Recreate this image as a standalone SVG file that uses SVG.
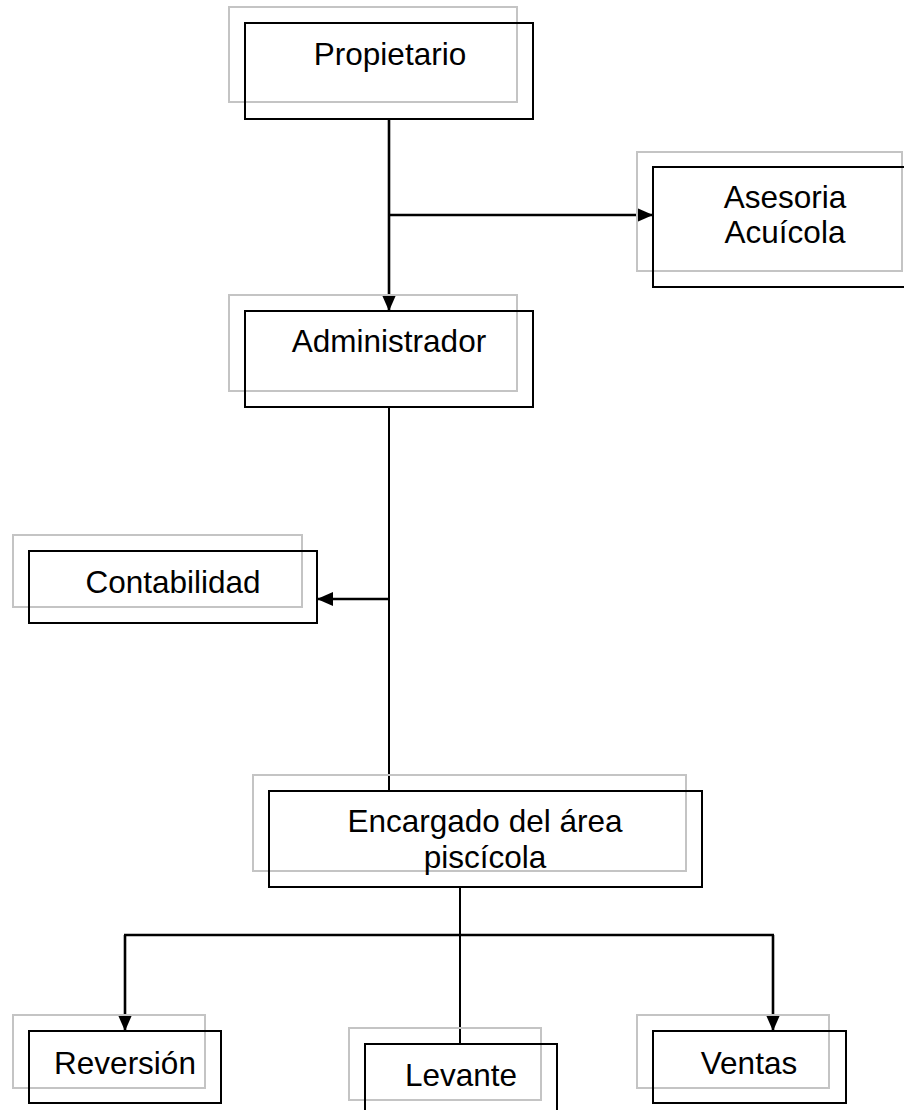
<svg xmlns="http://www.w3.org/2000/svg" width="904" height="1110" viewBox="0 0 904 1110">
<style>
.shadow{fill:none;stroke:#c4c4c4;stroke-width:2}
.box{fill:none;stroke:#000;stroke-width:2}
.lbl{font-family:"Liberation Sans",Arial,sans-serif;font-size:31.5px;fill:#000;text-anchor:middle}
.c{fill:none;stroke:#000;stroke-width:2.6}
.t{fill:none;stroke:#000;stroke-width:2}
</style>
<defs>
<marker id="ah" markerUnits="userSpaceOnUse" markerWidth="16" markerHeight="16" viewBox="0 0 16 14" refX="16" refY="7" orient="auto">
<path d="M0,0 L16,7 L0,14 z" fill="#000"/>
</marker>
</defs>
<rect width="904" height="1110" fill="#fff"/>
<g id="connectors">
<line class="c" x1="389" y1="119" x2="389" y2="311" marker-end="url(#ah)"/>
<line class="c" x1="389" y1="215" x2="653" y2="215" marker-end="url(#ah)"/>
<line class="t" x1="389" y1="407" x2="389" y2="791"/>
<line class="c" x1="389" y1="599" x2="317" y2="599" marker-end="url(#ah)"/>
<line class="t" x1="460" y1="887" x2="460" y2="1044"/>
<line class="c" x1="124" y1="935" x2="774" y2="935"/>
<line class="c" x1="125" y1="935" x2="125" y2="1031" marker-end="url(#ah)"/>
<line class="c" x1="773" y1="935" x2="773" y2="1031" marker-end="url(#ah)"/>
</g>
<g id="propietario">
<rect class="shadow" x="229" y="7" width="288" height="95"/>
<rect class="box" x="245" y="23" width="288" height="96"/>
<text class="lbl" x="390" y="65">Propietario</text>
</g>
<g id="asesoria">
<rect class="shadow" x="637" y="152" width="265" height="119"/>
<rect class="box" x="653" y="167" width="270" height="120"/>
<text class="lbl" x="785" y="208">Asesoria</text>
<text class="lbl" x="785" y="243">Acuícola</text>
</g>
<g id="administrador">
<rect class="shadow" x="229" y="295" width="288" height="96"/>
<rect class="box" x="245" y="311" width="288" height="96"/>
<text class="lbl" x="389" y="352">Administrador</text>
</g>
<g id="contabilidad">
<rect class="shadow" x="13" y="535" width="289" height="72"/>
<rect class="box" x="29" y="551" width="288" height="72"/>
<text class="lbl" x="173" y="593">Contabilidad</text>
</g>
<g id="encargado">
<rect class="shadow" x="253" y="775" width="433" height="96"/>
<rect class="box" x="269" y="791" width="433" height="96"/>
<text class="lbl" x="485" y="832">Encargado del área</text>
<text class="lbl" x="485" y="868">piscícola</text>
</g>
<g id="reversion">
<rect class="shadow" x="13" y="1015" width="192" height="73"/>
<rect class="box" x="29" y="1031" width="192" height="72"/>
<text class="lbl" x="125" y="1074">Reversión</text>
</g>
<g id="levante">
<rect class="shadow" x="349" y="1028" width="192" height="72"/>
<rect class="box" x="365" y="1044" width="192" height="80"/>
<text class="lbl" x="461" y="1086">Levante</text>
</g>
<g id="ventas">
<rect class="shadow" x="637" y="1015" width="192" height="73"/>
<rect class="box" x="653" y="1031" width="193" height="72"/>
<text class="lbl" x="749" y="1074">Ventas</text>
</g>
</svg>
